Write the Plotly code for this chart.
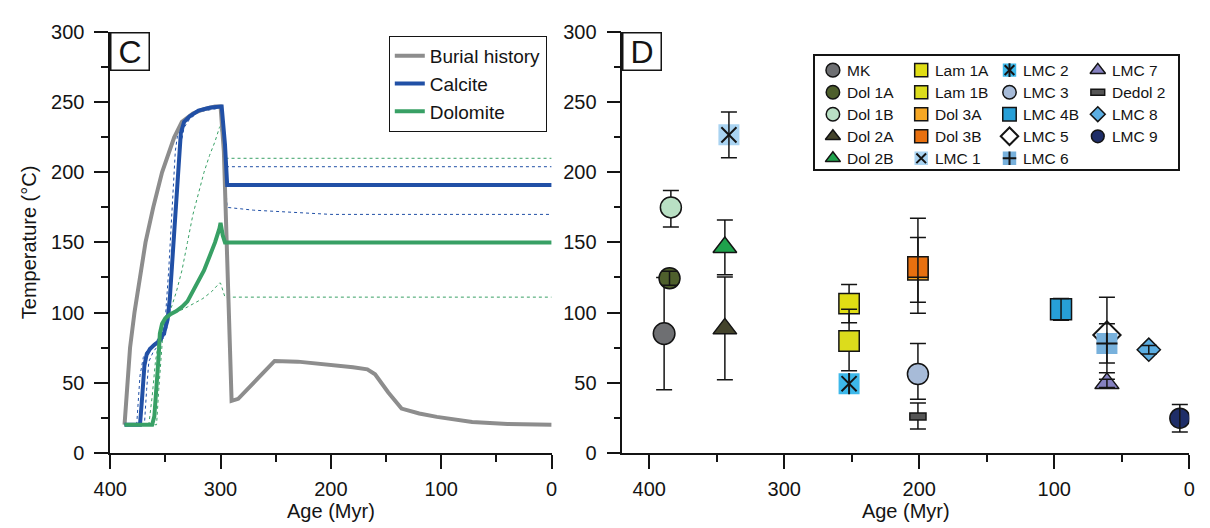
import plotly.graph_objects as go

# ---------------- Panel C : thermal history curves ----------------
burial_age = [387, 385, 382, 378, 373, 368, 361, 353, 342, 335, 325, 315, 305, 300,
              297, 295, 293, 291.5, 290, 284, 275, 262, 251, 230, 200, 180, 167, 160,
              148, 136, 120, 104, 72, 40, 0]
burial_temp = [20, 45, 75, 100, 127, 150, 175, 200, 225, 236, 242, 245, 247, 247,
               215, 160, 105, 62, 37, 38.5, 46, 57, 65.5, 65, 63, 61, 59.5, 56,
               43, 31.5, 28, 25.6, 22, 20.5, 20]

calcite_age = [387, 373, 371, 369, 367, 364, 360, 355, 351, 348, 346, 344, 342, 340,
               338, 336, 333, 328, 320, 310, 300, 299, 296, 294, 0]
calcite_temp = [20, 20, 40, 62, 70, 74, 77, 80, 86, 95, 110, 135, 160, 185,
                210, 228, 236, 240, 244, 246, 247, 247, 220, 191, 191]

calcite_hi_age = [387, 376, 373, 370, 366, 360, 354, 350, 347, 345, 343, 341, 338, 333,
                  320, 300, 297, 294, 0]
calcite_hi_temp = [20, 20, 55, 68, 74, 78, 84, 96, 130, 160, 190, 215, 232, 238,
                   244, 247, 225, 204, 204]

calcite_lo_age = [387, 369, 367, 365, 361, 355, 350, 346, 344, 342, 340, 338, 336, 333,
                  328, 320, 300, 297, 294, 270, 230, 200, 0]
calcite_lo_temp = [20, 20, 45, 65, 72, 78, 84, 100, 125, 150, 175, 200, 220, 232,
                   238, 243, 246, 210, 175, 173, 171, 170, 170]

dolomite_age = [387, 362, 360, 358, 356, 355, 353, 350, 345, 340, 335, 330, 325, 320,
                315, 310, 305, 301, 300, 298, 296, 0]
dolomite_temp = [20, 20, 26, 45, 70, 85, 92, 96, 99, 101, 104, 108, 115, 122,
                 130, 140, 150, 160, 164, 155, 150, 150]

dolomite_hi_age = [387, 365, 362, 359, 356, 352, 348, 344, 340, 335, 330, 325, 320, 315,
                   310, 305, 301, 300, 298, 296, 0]
dolomite_hi_temp = [20, 20, 40, 65, 80, 88, 96, 105, 115, 130, 150, 170, 185, 200,
                    212, 222, 232, 233, 222, 210, 210]

dolomite_lo_age = [387, 358, 356, 354, 352, 349, 345, 340, 335, 330, 325, 316, 308, 301,
                   300, 298, 296, 0]
dolomite_lo_temp = [20, 20, 45, 70, 88, 96, 100, 101, 102, 104, 106, 110, 115, 121,
                    121, 116, 111, 111]

# ---------------- Panel D : sample temperatures ----------------
sample_names = ["MK", "Dol 1A", "Dol 1B", "Dol 2A", "Dol 2B", "Lam 1A", "Lam 1B",
                "Dol 3A", "Dol 3B", "LMC 1", "LMC 2", "LMC 3", "LMC 4B", "LMC 5",
                "LMC 6", "LMC 7", "Dedol 2", "LMC 8", "LMC 9"]
sample_age = [389, 385, 384, 344, 344, 252, 252, 201, 201, 341, 252, 201, 95, 61,
              61, 61, 201, 30, 7]
sample_temp = [85, 124.5, 175, 88.5, 146.5, 106.4, 79.7, 130.5, 132.5, 226.7, 49.3,
               56.2, 102.3, 84, 78, 49.5, 25.8, 73.5, 24.7]
err_plus = [40, 5, 12, 36.8, 19.5, 13.6, 22.6, 23, 34.7, 16.3, 0, 21.8, 7.8, 27,
            14, 3, 9.7, 3, 9.8]
err_minus = [40, 5, 14, 36.5, 19.5, 13.6, 21.2, 23.2, 33, 16.3, 0, 18, 7.8, 27,
             14, 3, 8.8, 3, 9.8]

x_ticks = [400, 300, 200, 100, 0]
x_minor = [350, 250, 150, 50]
y_ticks = [0, 50, 100, 150, 200, 250, 300]
y_minor = [25, 75, 125, 175, 225, 275]

# ---------------- styles ----------------
FONT = "Liberation Sans, Arial, sans-serif"
K = "#141414"
GRAY, BLUE, GREEN = "#8d8d8d", "#2150a6", "#38a065"

def solid(sym, fill, scale=1.0, lw=1.5):
    return dict(symbol=sym, color=fill, lc=K, lw=lw, s=scale, ls=scale * 0.64, llw=lw)

def bare(sym, fill, scale=1.0):
    return dict(symbol=sym, color=fill, lc=fill, lw=0, s=scale, ls=scale * 0.64, llw=0)

def stroke(sym, scale, lw=2, col=K, ls=None, llw=None):
    return dict(symbol=sym, color=col, lc=col, lw=lw, s=scale,
                ls=scale * 0.64 if ls is None else ls, llw=lw if llw is None else llw)

styles = {
    "MK": [solid("circle", "#6e6f72", 1.03)],
    "Dol 1A": [solid("circle", "#4e5f2c")],
    "Dol 1B": [solid("circle", "#b9e0c4")],
    "Dol 2A": [solid("triangle-up", "#44442c", 0.98)],
    "Dol 2B": [solid("triangle-up", "#1fa24c", 0.98)],
    "Lam 1A": [solid("square", "#e0dd14", 0.97)],
    "Lam 1B": [solid("square", "#dcdc1c", 0.97)],
    "Dol 3A": [solid("square", "#f6a724", 0.97)],
    "Dol 3B": [solid("square", "#e8700f", 0.97)],
    "LMC 1": [bare("square", "#a9d3f1", 1.0), stroke("x-thin-open", 0.72)],
    "LMC 2": [bare("square", "#3db8ea", 1.0), stroke("x-thin-open", 0.72),
              stroke("line-ns-open", 0.72)],
    "LMC 3": [solid("circle", "#a7bbd8")],
    "LMC 4B": [solid("square", "#279fd7", 1.0)],
    "LMC 5": [solid("diamond", "#ffffff", 1.0, 2)],
    "LMC 6": [bare("square", "#78b1dc", 1.0), stroke("cross-thin-open", 0.72)],
    "LMC 7": [solid("triangle-up", "#8581c0", 1.0)],
    "Dedol 2": [stroke("line-ew-open", 0.6, 8.5, K, ls=0.52, llw=7.5),
                stroke("line-ew-open", 0.5, 5.5, "#555555", ls=0.42, llw=4.5)],
    "LMC 8": [solid("diamond", "#5caee2", 0.85)],
    "LMC 9": [solid("circle", "#1f2e68", 0.95)],
}
# samples whose error bar is drawn above the symbols
bar_on_top = {"Dol 1A", "Dol 3A", "LMC 1", "LMC 4B", "LMC 7", "LMC 8", "LMC 9"}

BASE = 21

fig = go.Figure()

# ---- panel C traces ----
dash_sets = [(calcite_hi_age, calcite_hi_temp, BLUE), (calcite_lo_age, calcite_lo_temp, BLUE),
             (dolomite_hi_age, dolomite_hi_temp, GREEN), (dolomite_lo_age, dolomite_lo_temp, GREEN)]
for a, t, c in dash_sets:
    fig.add_trace(go.Scatter(x=a, y=t, mode="lines", line=dict(color=c, width=1, dash="dot"),
                             showlegend=False, hoverinfo="skip", xaxis="x", yaxis="y"))
fig.add_trace(go.Scatter(x=burial_age, y=burial_temp, mode="lines", name="Burial history",
                         line=dict(color=GRAY, width=4), xaxis="x", yaxis="y"))
fig.add_trace(go.Scatter(x=calcite_age, y=calcite_temp, mode="lines", name="Calcite",
                         line=dict(color=BLUE, width=4), xaxis="x", yaxis="y"))
fig.add_trace(go.Scatter(x=dolomite_age, y=dolomite_temp, mode="lines", name="Dolomite",
                         line=dict(color=GREEN, width=4), xaxis="x", yaxis="y"))


def ebar(i):
    return dict(type="data", symmetric=False, array=[err_plus[i]], arrayminus=[err_minus[i]],
                color=K, thickness=1.5, width=8)


# ---- panel D traces ----
for i, name in enumerate(sample_names):
    for j, L in enumerate(styles[name]):
        kw = {}
        if j == 0 and name not in bar_on_top and (err_plus[i] > 0 or err_minus[i] > 0):
            kw["error_y"] = ebar(i)
        fig.add_trace(go.Scatter(
            x=[sample_age[i]], y=[sample_temp[i]], mode="markers", name=name,
            marker=dict(symbol=L["symbol"], size=BASE * L["s"], color=L["color"],
                        line=dict(color=L["lc"], width=L["lw"])),
            showlegend=False, xaxis="x2", yaxis="y2", **kw))
for i, name in enumerate(sample_names):
    if name in bar_on_top:
        fig.add_trace(go.Scatter(
            x=[sample_age[i]], y=[sample_temp[i]], mode="markers", name=name,
            marker=dict(size=1, color="rgba(0,0,0,0)"), error_y=ebar(i),
            showlegend=False, hoverinfo="skip", xaxis="x2", yaxis="y2"))

# ---- manual legend for panel D (column-major grid) ----
annotations = []
for i, name in enumerate(sample_names):
    col, row = i // 5, i % 5
    for L in styles[name]:
        fig.add_trace(go.Scatter(
            x=[col], y=[row], mode="markers",
            marker=dict(symbol=L["symbol"], size=BASE * L["ls"], color=L["color"],
                        line=dict(color=L["lc"], width=L["llw"])),
            showlegend=False, hoverinfo="skip", xaxis="x3", yaxis="y3"))
    annotations.append(dict(text=name, x=col, y=row, xref="x3", yref="y3", xanchor="left",
                            yanchor="middle", xshift=12, showarrow=False,
                            font=dict(size=15.5, color=K, family=FONT)))

# panel letters
for lab, ax in (("C", ""), ("D", "2")):
    annotations.append(dict(text=lab, xref=f"x{ax} domain", yref=f"y{ax} domain", x=0, y=1,
                            xanchor="left", yanchor="top", showarrow=False,
                            font=dict(size=32, color=K, family=FONT),
                            bordercolor=K, borderwidth=1.5, borderpad=0, width=37, height=36,
                            bgcolor="white"))

TF = dict(size=20, color=K, family=FONT)
common = dict(showline=True, linecolor=K, linewidth=1.5, ticks="outside", ticklen=14,
              tickwidth=1.5, tickcolor=K, showgrid=False, zeroline=False, tickfont=TF)
xcommon = dict(common, tickvals=x_ticks, minor=dict(tickvals=x_minor, ticks="outside",
               ticklen=7, tickwidth=1.5, tickcolor=K), ticklabelstandoff=3,
               title=dict(text="Age (Myr)", font=TF, standoff=2))
ycommon = dict(common, tickvals=y_ticks, minor=dict(tickvals=y_minor, ticks="outside",
               ticklen=7, tickwidth=1.5, tickcolor=K), ticklabelstandoff=6, range=[0, 300])

ydom = [1 - 461 / 528, 1 - 22 / 528]
fig.update_layout(
    width=1210, height=528, margin=dict(l=0, r=0, t=0, b=0),
    paper_bgcolor="white", plot_bgcolor="white",
    font=dict(family=FONT, color=K),
    xaxis=dict(xcommon, range=[400, 0], domain=[95 / 1210, 545 / 1210], anchor="y"),
    yaxis=dict(ycommon, domain=ydom, anchor="x",
               title=dict(text="Temperature (°C)", font=TF, standoff=9)),
    xaxis2=dict(xcommon, range=[420, 0], domain=[617 / 1210, 1195 / 1210], anchor="y2"),
    yaxis2=dict(ycommon, domain=ydom, anchor="x2"),
    xaxis3=dict(domain=[813 / 1210, 1183 / 1210], range=[-0.208, 3.903], anchor="y3",
                showline=True, mirror=True, linecolor=K, linewidth=1.5, showticklabels=False,
                ticks="", showgrid=False, zeroline=False, fixedrange=True),
    yaxis3=dict(domain=[1 - 165 / 528, 1 - 47 / 528], range=[4.491, -0.639], anchor="x3",
                showline=True, mirror=True, linecolor=K, linewidth=1.5, showticklabels=False,
                ticks="", showgrid=False, zeroline=False, fixedrange=True),
    legend=dict(x=379 / 1210, xanchor="left", y=1 - 26 / 528, yanchor="top",
                bordercolor=K, borderwidth=1, bgcolor="white",
                font=dict(size=19, color=K, family=FONT), tracegroupgap=0),
    annotations=annotations,
)

fig.write_html("out.html")
